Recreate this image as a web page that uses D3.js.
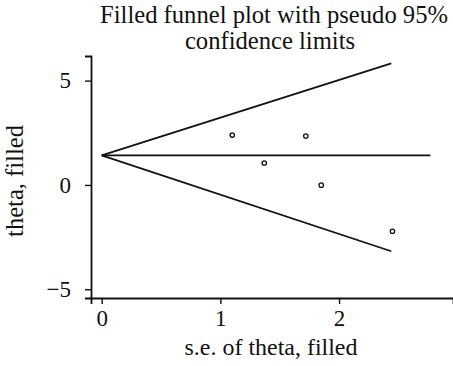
<!DOCTYPE html>
<html>
<head>
<meta charset="utf-8">
<script src="https://cdn.jsdelivr.net/npm/d3@7"></script>
<style>
  body { margin: 0; background: #fff; }
  svg text { font-family: "Liberation Serif", "DejaVu Serif", serif; fill: #111; }
</style>
</head>
<body>
<script>
// studies (s.e., theta)
const seValues = [1.10, 1.72, 1.37, 1.85, 2.45];
const thetaValues = [2.39, 2.34, 1.05, -0.01, -2.22];
// pooled estimate line and pseudo 95% limits
const pooledTheta = 1.42;
const pooledLineEnd = 2.77;
const limitSe = [0, 2.44];
const upperLimit = [1.42, 5.83];
const lowerLimit = [1.42, -3.18];
const xTicks = [0, 1, 2];
const yTicks = [-5, 0, 5];
const titleLines = ["Filled funnel plot with pseudo 95%", "confidence limits"];

const width = 453, height = 366;
const margin = { left: 91, right: 0, top: 56, bottom: 68 };

const svg = d3.select('body').append('svg')
	.attr('width', width)
	.attr('height', height);

const x = d3.scaleLinear()
	.domain([-0.09, 2.96])
	.range([margin.left, width - margin.right]);

const y = d3.scaleLinear()
	.domain([-5.42, 6.18])
	.range([height - margin.bottom, margin.top]);

// fit a text to the width it has in the picture
const fitWidth = (sel, w) => {
	const len = sel.node().getComputedTextLength();
	const fs = parseFloat(sel.style('font-size'));
	sel.style('font-size', (fs * w / len).toFixed(2) + 'px');
};

// axes
const xAxis = svg.append('g')
	.attr('transform', `translate(0,${height - margin.bottom})`)
	.call(d3.axisBottom(x).tickValues(xTicks).tickSize(6).tickPadding(6).tickFormat(d3.format('d')));

const yAxis = svg.append('g')
	.attr('transform', `translate(${margin.left},0)`)
	.call(d3.axisLeft(y).tickValues(yTicks).tickSize(6).tickPadding(14).tickFormat(d => d < 0 ? '\u2212' + Math.abs(d) : d));

[xAxis, yAxis].forEach(a => {
	a.attr('font-family', null);
	a.select('.domain').attr('stroke', '#111').attr('stroke-width', 1.8);
	a.selectAll('.tick line').attr('stroke', '#111').attr('stroke-width', 1.4);
	a.selectAll('.tick text')
		.style('font-size', '23px')
		.attr('fill', '#111');
});

// funnel lines
const line = d3.line()
	.x(d => x(d[0]))
	.y(d => y(d[1]));

const lineData = [
	[[limitSe[0], upperLimit[0]], [limitSe[1], upperLimit[1]]],
	[[limitSe[0], lowerLimit[0]], [limitSe[1], lowerLimit[1]]],
	[[0, pooledTheta], [pooledLineEnd, pooledTheta]]
];

svg.selectAll('path.funnel')
	.data(lineData)
	.enter().append('path')
	.attr('class', 'funnel')
	.attr('d', line)
	.attr('fill', 'none')
	.attr('stroke', '#111')
	.attr('stroke-width', 1.8);

// study points
svg.selectAll('circle.study')
	.data(seValues.map((s, i) => ({ se: s, theta: thetaValues[i] })))
	.enter().append('circle')
	.attr('class', 'study')
	.attr('cx', d => x(d.se))
	.attr('cy', d => y(d.theta))
	.attr('r', 2.2)
	.attr('fill', 'none')
	.attr('stroke', '#111')
	.attr('stroke-width', 1.3);

// title
const t1 = svg.append('text')
	.attr('x', 274).attr('y', 23)
	.attr('text-anchor', 'middle')
	.style('font-size', '22px')
	.text(titleLines[0]);
fitWidth(t1, 348);

svg.append('text')
	.attr('x', 270).attr('y', 49)
	.attr('text-anchor', 'middle')
	.style('font-size', t1.style('font-size'))
	.text(titleLines[1]);

// axis labels
const xl = svg.append('text')
	.attr('x', 271)
	.attr('y', 355)
	.attr('text-anchor', 'middle')
	.style('font-size', '22px')
	.text('s.e. of theta, filled');
fitWidth(xl, 173);

const yl = svg.append('text')
	.attr('transform', `translate(23,181) rotate(-90)`)
	.attr('text-anchor', 'middle')
	.style('font-size', '22px')
	.text('theta, filled');
fitWidth(yl, 112);
</script>
</body>
</html>
